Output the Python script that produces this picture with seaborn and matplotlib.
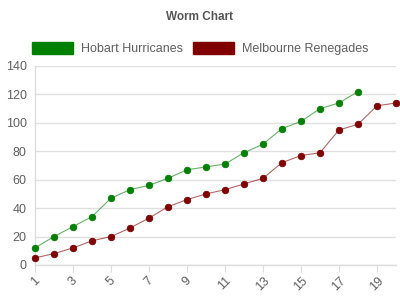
import matplotlib
matplotlib.use("Agg")
import matplotlib.pyplot as plt
import seaborn as sns
import pandas as pd
from matplotlib.patches import Patch

overs_hobart = list(range(1, 19))
hobart = [12, 20, 27, 34, 47, 53, 56, 61, 67, 69, 71, 79, 85, 96, 101, 110, 114, 122]
overs_melb = list(range(1, 21))
melbourne = [5, 8, 12, 17, 20, 26, 33, 41, 46, 50, 53, 57, 61, 72, 77, 79, 95, 99, 112, 114]
series_names = ["Hobart Hurricanes", "Melbourne Renegades"]
colors = ["#008000", "#800000"]
x_ticks = list(range(1, 20, 2))
y_ticks = list(range(0, 141, 20))

df = pd.concat([
    pd.DataFrame({"over": overs_hobart, "runs": hobart, "team": series_names[0]}),
    pd.DataFrame({"over": overs_melb, "runs": melbourne, "team": series_names[1]}),
])

sns.set_style("white")
plt.rcParams["font.family"] = ["Liberation Sans", "DejaVu Sans"]

fig = plt.figure(figsize=(4, 3), dpi=100)
ax = fig.add_axes([0.0875, 0.1167, 0.9025, 0.6633])

for name, col in zip(series_names, colors):
    sub = df[df["team"] == name]
    sns.lineplot(data=sub, x="over", y="runs", ax=ax, color=col, alpha=0.6,
                 linewidth=0.8, legend=False, zorder=2)
    ax.scatter(sub["over"], sub["runs"], s=22, color=col, edgecolor=col,
               linewidth=0.6, zorder=3, clip_on=False)

ax.set_xlim(1, 20)
ax.set_ylim(0, 140)
ax.set_xticks(x_ticks)
ax.set_yticks(y_ticks)
ax.set_xlabel("")
ax.set_ylabel("")
ax.grid(axis="y", color="#e0e0e0", linewidth=1)
ax.grid(axis="x", visible=False)
for s in ["top", "right"]:
    ax.spines[s].set_visible(False)
for s in ["left", "bottom"]:
    ax.spines[s].set_color("#dddddd")
    ax.spines[s].set_linewidth(1)
ax.tick_params(axis="x", length=5, color="#dddddd", labelsize=9, labelcolor="#606060",
               direction="out", bottom=True, pad=2)
ax.tick_params(axis="y", length=0, labelsize=9, labelcolor="#606060", pad=6)
for lbl in ax.get_xticklabels():
    lbl.set_rotation(45)
    lbl.set_ha("center")

fig.text(0.5, 0.945, "Worm Chart", ha="center", va="center", fontsize=8.5,
         fontweight="bold", color="#555555")

handles = [Patch(facecolor=c, edgecolor=c, alpha=1, label=n) for n, c in zip(series_names, colors)]
leg = fig.legend(handles=handles, loc="center", bbox_to_anchor=(0.5, 0.837), ncol=2,
                 frameon=False, fontsize=9, handlelength=3.3, handleheight=1.0,
                 handletextpad=0.64, columnspacing=0.8, labelcolor="#606060")

fig.savefig("out.png", dpi=100)
